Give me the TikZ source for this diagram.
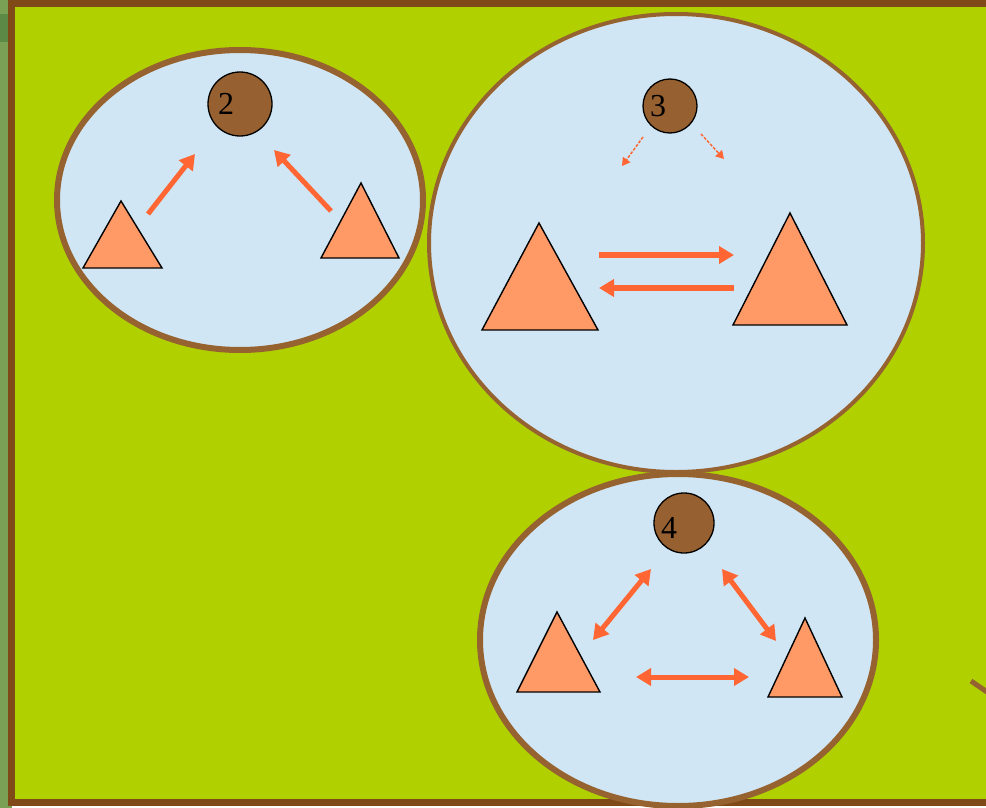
\documentclass[tikz,border=0pt]{standalone}
\usepackage{fontspec}
\setmainfont{Liberation Serif}
\usepackage{xcolor}
\usepackage{tikz}
\usetikzlibrary{shapes,arrows.meta,positioning,calc}

\definecolor{field}{RGB}{176,208,0}
\definecolor{strip}{RGB}{122,160,85}
\definecolor{stripdark}{RGB}{92,138,70}
\definecolor{frame}{RGB}{128,74,24}
\definecolor{rim}{RGB}{150,98,48}
\definecolor{pool}{RGB}{208,230,244}
\definecolor{tri}{RGB}{255,153,102}
\definecolor{link}{RGB}{255,102,51}
\definecolor{seed}{RGB}{150,96,48}

\tikzset{
    zone/.style={draw=rim, line width=6pt, fill=pool},
    seedball/.style={circle, draw=black, line width=1.3pt, fill=seed, minimum size=#1, inner sep=0pt},
    num/.style={font=\fontsize{32}{32}\selectfont, inner sep=0pt},
    species/.style={draw=black, line width=1.4pt, fill=tri, line join=miter},
    flow/.style={draw=link, line width=5pt, -{Triangle[length=15pt,width=17pt]}},
    twoway/.style={draw=link, line width=5pt, {Triangle[length=15pt,width=17pt]}-{Triangle[length=15pt,width=17pt]}},
    drift/.style={draw=link, line width=1.5pt, dash pattern=on 3pt off 1.5pt, -{Triangle[length=8pt,width=9pt]}}
}

\begin{document}
\begin{tikzpicture}[x=1pt, y=-1pt]
\useasboundingbox (0,0) rectangle (986,808);
\clip (0,0) rectangle (986,808);

% ground
\fill[strip] (0,0) rectangle (12,808);
\fill[stripdark] (0,14) rectangle (8,42);
\fill[field] (12,4) rectangle (990,802);
\draw[frame, line width=7pt] (1000,3.5) -- (11.5,3.5) -- (11.5,802.5) -- (1000,802.5);
\draw[rim, line width=5pt] (971,681) -- (990,694);

% zones
\draw[zone] (240,200) ellipse [x radius=183, y radius=150];
\draw[zone, line width=4pt] (676,243) ellipse [x radius=247, y radius=229];
\draw[zone] (678,640) ellipse [x radius=198, y radius=166];

% zone 2
\node[seedball=64pt] (c2) at (240,104) {};
\node[num] (n2) at ([xshift=-14pt]c2.center) {2};
\draw[species] (83,268) -- (162,268) -- (121,201) -- cycle;
\draw[species] (321,258) -- (399,258) -- (361,183) -- cycle;
\coordinate (a2s) at (148,214);
\coordinate (a2t) at (195,154);
\coordinate (b2s) at (331,211);
\coordinate (b2t) at (274,150);
\draw[flow] (a2s) -- (a2t);
\draw[flow] (b2s) -- (b2t);

% zone 3
\node[seedball=54pt] (c3) at (670,106) {};
\node[num] (n3) at ([xshift=-12pt]c3.center) {3};
\draw[species] (482,330) -- (598,330) -- (539,223) -- cycle;
\draw[species] (733,325) -- (847,325) -- (790,213) -- cycle;
\coordinate (d3ls) at (643,137);
\coordinate (d3l) at (622,166);
\coordinate (d3rs) at (701,134);
\coordinate (d3r) at (724,159);
\draw[drift] (d3ls) -- (d3l);
\draw[drift] (d3rs) -- (d3r);
\coordinate (p3l) at (599,255);
\coordinate (p3r) at (734,255);
\coordinate (q3l) at (599,288);
\coordinate (q3r) at (734,288);
\draw[flow, line width=6pt] (p3l) -- (p3r);
\draw[flow, line width=6pt] (q3r) -- (q3l);

% zone 4
\node[seedball=60pt] (c4) at (684,523) {};
\node[num] (n4) at ([xshift=-15pt,yshift=-5pt]c4.center) {4};
\draw[species] (517,692) -- (600,692) -- (557,612) -- cycle;
\draw[species] (768,697) -- (842,697) -- (805,618) -- cycle;
\coordinate (e4a) at (593,640);
\coordinate (e4b) at (651,569);
\coordinate (f4a) at (722,569);
\coordinate (f4b) at (776,641);
\coordinate (g4a) at (636,677);
\coordinate (g4b) at (749,677);
\draw[twoway] (e4a) -- (e4b);
\draw[twoway] (f4a) -- (f4b);
\draw[twoway] (g4a) -- (g4b);
\end{tikzpicture}
\end{document}
